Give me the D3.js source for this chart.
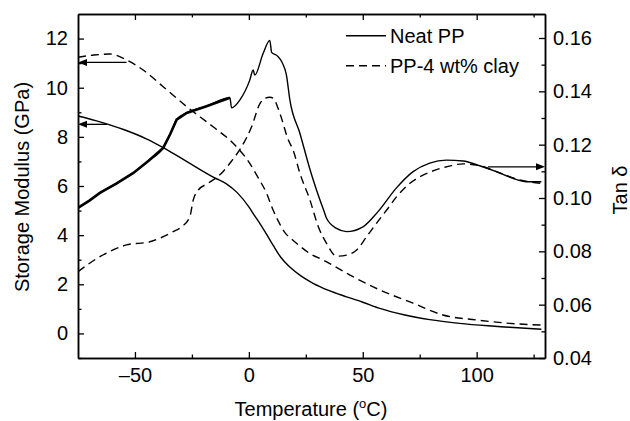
<!DOCTYPE html>
<html>
<head>
<meta charset="utf-8">
<script src="https://cdn.jsdelivr.net/npm/d3@7"></script>
<style>
  body { margin: 0; background: #fff; }
  svg { display: block; }
  text { font-family: "Liberation Sans", Arial, sans-serif; fill: #000; }
</style>
</head>
<body>
<svg id="chart" width="630" height="421"></svg>
<script>
// ---------------- DATA ----------------
// Temperature (°C) vs storage modulus (GPa), left axis
const neatModulus = [
  [-75, 8.85], [-65, 8.60], [-55, 8.30], [-45, 7.92], [-36.8, 7.52], [-27, 6.98],
  [-15, 6.33], [-10, 6.10], [-5, 5.72], [0, 5.15], [2.6, 4.78], [5, 4.45], [8, 4.00],
  [10.7, 3.58], [14, 3.10], [18, 2.70], [23, 2.33], [28.2, 2.04], [35, 1.75],
  [42.9, 1.49], [50, 1.27], [57.5, 1.02], [68, 0.76], [79.4, 0.56], [92.5, 0.41],
  [105, 0.31], [114.5, 0.25], [128.4, 0.17]
];
const clayModulus = [
  [-75, 11.24], [-68, 11.33], [-61, 11.37], [-53.7, 11.13], [-46.4, 10.72],
  [-37.6, 10.04], [-27.3, 9.23], [-15.7, 8.41], [-6.9, 7.74], [0.4, 6.92],
  [4, 6.35], [7.8, 5.70], [10.5, 5.05], [13.6, 4.45], [16, 4.08], [18.5, 3.86],
  [20.9, 3.67], [26.8, 3.25], [32.6, 2.99], [45.7, 2.31], [57.5, 1.77], [72.1, 1.23],
  [85.2, 0.75], [99.9, 0.55], [114.5, 0.41], [128.4, 0.34]
];
// Temperature (°C) vs tan delta, right axis
const neatTan = [
  [-75, 0.0963], [-70, 0.0990], [-65.4, 0.1019], [-58, 0.1055], [-50.7, 0.1094],
  [-44, 0.1140], [-37.6, 0.1188], [-34.5, 0.1240], [-31.7, 0.1294], [-27.3, 0.1319],
  [-18.6, 0.1344], [-8.3, 0.1376], [-7.6, 0.1338], [-3.9, 0.1368], [0.4, 0.1442],
  [1.9, 0.1480], [2.6, 0.1461], [6.3, 0.1543], [9.2, 0.1591], [10.0, 0.1546],
  [12.5, 0.1533], [14.5, 0.1510], [16.5, 0.1461], [18.0, 0.1368], [22.4, 0.1243],
  [26.8, 0.1108], [29.7, 0.1030], [33.3, 0.0943], [34.1, 0.0924], [38.5, 0.0886],
  [42.9, 0.0874], [50.1, 0.0892], [56.7, 0.0949], [64.8, 0.1038], [72.1, 0.1099],
  [79.4, 0.1131], [86.7, 0.1142], [94.0, 0.1139], [101.3, 0.1121], [108.6, 0.1099],
  [115.9, 0.1074], [121.8, 0.1061], [128.4, 0.1061]
];
const clayTan = [
  [-75, 0.0724], [-65.4, 0.0780], [-53.7, 0.0824], [-43.4, 0.0836], [-33.2, 0.0874],
  [-29.5, 0.0892], [-25.9, 0.0930], [-24.4, 0.0993], [-22.2, 0.1030], [-17.9, 0.1055],
  [-12.0, 0.1093], [-7.9, 0.1135], [-3.2, 0.1192], [1.2, 0.1267], [4.8, 0.1353],
  [7.0, 0.1374], [9.2, 0.1378], [10.7, 0.1374], [13.6, 0.1318], [17.3, 0.1218],
  [19.4, 0.1180], [22.4, 0.1093], [26.8, 0.0993], [30.5, 0.0892], [34.1, 0.0830],
  [38.5, 0.0782], [42.9, 0.0786], [47.3, 0.0805], [51.7, 0.0855], [56.1, 0.0906],
  [60.5, 0.0955], [64.9, 0.1005], [70.7, 0.1055], [79.5, 0.1097], [86.8, 0.1117],
  [94.1, 0.1128], [101.4, 0.1121], [108.7, 0.1099], [118.9, 0.1068], [128.5, 0.1055]
];
// noisy (raw-signal) region of the neat PP tan delta trace ends here
const neatTanNoisyEnd = -7.6;

// Arrows: which curve belongs to which axis  [fromT, toT, value, axis]
const arrows = [
  [-53.7, -75, 11.03, "left"],
  [-62.3, -75, 8.51, "left"],
  [105, 130, 0.1117, "right"]
];

// Ticks
const xMajor = [-50, 0, 50, 100];
const xMinor = [-25, 25, 75, 125];
const xLabels = ["\u201350", "0", "50", "100"];
const yLMajor = [0, 2, 4, 6, 8, 10, 12];
const yLMinor = [-1, 1, 3, 5, 7, 9, 11];
const yRMajor = [0.04, 0.06, 0.08, 0.10, 0.12, 0.14, 0.16];
const yRMinor = [0.05, 0.07, 0.09, 0.11, 0.13, 0.15];

const legendItems = [
  { label: "Neat PP", dash: null },
  { label: "PP-4 wt% clay", dash: "8,5" }
];

// ---------------- CHART ----------------
const svg = d3.select("#chart");
const L = 78, R = 545, T = 14, B = 358;

const x = d3.scaleLinear().domain([-75, 130]).range([L, R]);
const yL = d3.scaleLinear().domain([-1, 13]).range([B, T]);
const yR = d3.scaleLinear().domain([0.04, 0.169]).range([B, T]);

svg.append("defs").append("clipPath").attr("id", "clip")
  .append("rect").attr("x", L).attr("y", T).attr("width", R - L).attr("height", B - T);

const FS = 20;

function styleAxis(g) {
  g.selectAll("path.domain").attr("stroke", "#000").attr("stroke-width", 1.5);
  g.selectAll(".tick line").attr("stroke", "#000").attr("stroke-width", 1.3);
  g.selectAll(".tick text").style("font-size", FS + "px")
    .style("font-family", '"Liberation Sans", Arial, sans-serif').attr("fill", "#000");
}

// bottom
svg.append("g").attr("transform", `translate(0,${B})`)
  .call(d3.axisBottom(x).tickValues(xMajor).tickSize(-6).tickSizeOuter(0).tickPadding(10)
    .tickFormat((d, i) => xLabels[i]))
  .call(styleAxis);
svg.append("g").attr("transform", `translate(0,${B})`)
  .call(d3.axisBottom(x).tickValues(xMinor).tickSize(-3.5).tickSizeOuter(0).tickFormat(""))
  .call(styleAxis);
// top
svg.append("g").attr("transform", `translate(0,${T})`)
  .call(d3.axisTop(x).tickValues(xMajor).tickSize(-6).tickSizeOuter(0).tickFormat(""))
  .call(styleAxis);
svg.append("g").attr("transform", `translate(0,${T})`)
  .call(d3.axisTop(x).tickValues(xMinor).tickSize(-3.5).tickSizeOuter(0).tickFormat(""))
  .call(styleAxis);
// left
svg.append("g").attr("transform", `translate(${L},0)`)
  .call(d3.axisLeft(yL).tickValues(yLMajor).tickSize(-6).tickSizeOuter(0).tickPadding(10)
    .tickFormat(d3.format("d")))
  .call(styleAxis);
svg.append("g").attr("transform", `translate(${L},0)`)
  .call(d3.axisLeft(yL).tickValues(yLMinor).tickSize(-3.5).tickSizeOuter(0).tickFormat(""))
  .call(styleAxis);
// right
svg.append("g").attr("transform", `translate(${R},0)`)
  .call(d3.axisRight(yR).tickValues(yRMajor).tickSize(-6).tickSizeOuter(0).tickPadding(8)
    .tickFormat(d3.format(".2f")))
  .call(styleAxis);
svg.append("g").attr("transform", `translate(${R},0)`)
  .call(d3.axisRight(yR).tickValues(yRMinor).tickSize(-3.5).tickSizeOuter(0).tickFormat(""))
  .call(styleAxis);

// axis titles
const xt = svg.append("text").attr("x", 311).attr("y", 416).attr("text-anchor", "middle")
  .style("font-size", FS + "px");
xt.append("tspan").text("Temperature (");
xt.append("tspan").text("o").style("font-size", "13px").attr("dy", -8);
xt.append("tspan").text("C)").attr("dy", 8);

svg.append("text").attr("transform", "translate(29,187) rotate(-90)")
  .attr("text-anchor", "middle").style("font-size", FS + "px")
  .text("Storage Modulus (GPa)");
svg.append("text").attr("transform", "translate(627,190) rotate(-90)")
  .attr("text-anchor", "middle").style("font-size", FS + "px")
  .text("Tan \u03b4");

// curves
const plot = svg.append("g").attr("clip-path", "url(#clip)");
const lineL = d3.line().x(d => x(d[0])).y(d => yL(d[1])).curve(d3.curveMonotoneX);
const lineR = d3.line().x(d => x(d[0])).y(d => yR(d[1])).curve(d3.curveMonotoneX);
const lineRLin = d3.line().x(d => x(d[0])).y(d => yR(d[1]));

plot.append("path").datum(neatModulus).attr("d", lineL)
  .attr("fill", "none").attr("stroke", "#000").attr("stroke-width", 1.4);
plot.append("path").datum(clayModulus).attr("d", lineL)
  .attr("fill", "none").attr("stroke", "#000").attr("stroke-width", 1.4)
  .attr("stroke-dasharray", "8,5");
plot.append("path").datum(neatTan).attr("d", lineR)
  .attr("fill", "none").attr("stroke", "#000").attr("stroke-width", 1.4);
// thicker overlay for the noisy raw-signal part
plot.append("path").datum(neatTan.filter(d => d[0] <= neatTanNoisyEnd - 0.5))
  .attr("d", lineRLin)
  .attr("fill", "none").attr("stroke", "#000").attr("stroke-width", 2.6);
plot.append("path").datum(clayTan).attr("d", lineR)
  .attr("fill", "none").attr("stroke", "#000").attr("stroke-width", 1.4)
  .attr("stroke-dasharray", "8,5");

// arrows
arrows.forEach(a => {
  const ys = a[3] === "left" ? yL : yR;
  const x1 = x(a[0]), x2 = x(a[1]), yy = ys(a[2]);
  const dir = Math.sign(x2 - x1);
  const hl = 9, hw = 3.5;
  svg.append("line").attr("x1", x1).attr("x2", x2 - dir * hl).attr("y1", yy).attr("y2", yy)
    .attr("stroke", "#000").attr("stroke-width", 1.3);
  svg.append("path")
    .attr("d", `M${x2},${yy}L${x2 - dir * hl},${yy - hw}L${x2 - dir * hl},${yy + hw}Z`)
    .attr("fill", "#000");
});

// legend
const lg = svg.append("g");
legendItems.forEach((it, i) => {
  const yy = 35.7 + i * 30;
  lg.append("line").attr("x1", 346).attr("x2", 386).attr("y1", yy).attr("y2", yy)
    .attr("stroke", "#000").attr("stroke-width", 1.4)
    .attr("stroke-dasharray", it.dash);
  lg.append("text").attr("x", 390).attr("y", yy + 7.5).style("font-size", FS + "px")
    .text(it.label);
});
</script>
</body>
</html>
